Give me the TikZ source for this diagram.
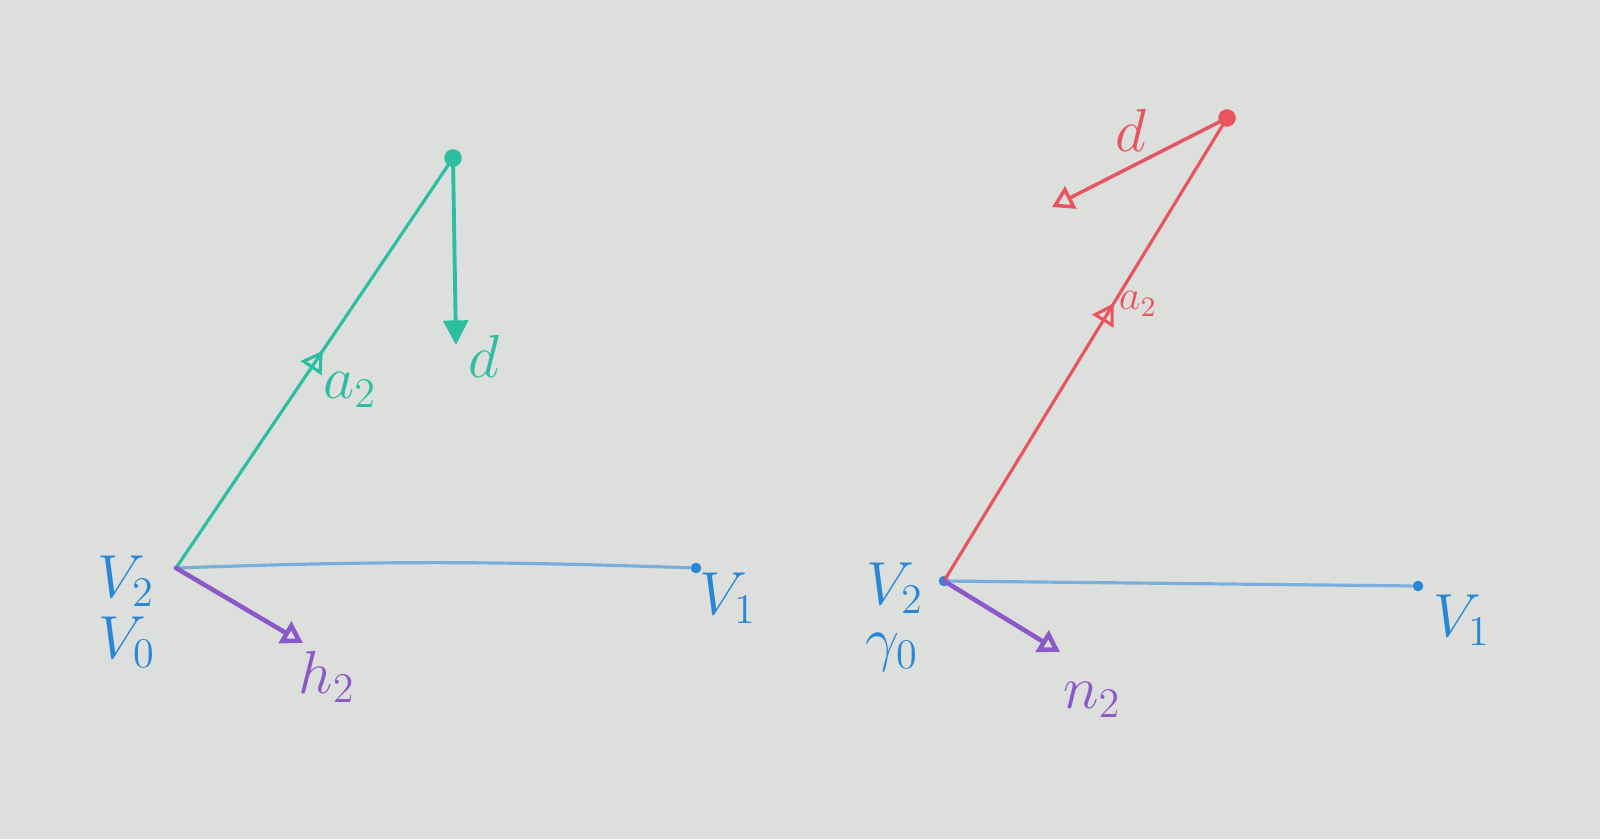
\documentclass[tikz,border=0pt]{standalone}
\usetikzlibrary{arrows.meta,decorations.markings}
\definecolor{board}{RGB}{221,223,221}
\definecolor{teal}{RGB}{45,190,160}
\definecolor{edgeblue}{RGB}{120,175,220}
\definecolor{inkblue}{RGB}{40,135,215}
\definecolor{inkpurple}{RGB}{140,90,200}
\definecolor{inkred}{RGB}{232,85,95}
\begin{document}
\begin{tikzpicture}[
    x=0.01cm, y=-0.01cm,
    dot/.style={
      circle,
      fill,
      inner sep=0pt,
      minimum size=#1
    },
    vec/.style={
      line width=1.3pt,
      -{Triangle[open,length=6pt,width=7pt]},
      line cap=round
    },
    edge/.style={
      edgeblue,
      line width=0.9pt,
      line cap=round
    },
    midarrow/.style={
      line width=0.9pt,
      postaction={decorate},
      decoration={markings,
        mark=at position #1 with {\arrow{Triangle[open,length=6pt,width=7pt]}}}
    },
    lab/.style={
      font=\LARGE,
      inner sep=0pt
    }
  ]

    % whiteboard
    \fill[board] (0,0) rectangle (1600,839);

    % Left sketch
    \begin{scope}
      \node[dot=5pt, teal] (ltop) at (453,158) {};
      \node[dot=3pt, inkblue] (lone) at (696,568) {};
      \coordinate (lorig) at (176,568);
      \coordinate (ldend) at (456,345);
      \coordinate (lhend) at (303,643);

      \draw[edge] (lorig) to[bend left=2] (lone);
      \draw[teal, midarrow=0.53] (lorig) -- (ltop.center);
      \draw[teal, line width=1.1pt, -{Triangle[length=7pt,width=7pt]}] (ltop.center) -- (ldend);
      \draw[vec, inkpurple] (lorig) -- (lhend);

      \node[lab, text=teal] (la) at (350,390) {$a_2$};
      \node[lab, text=teal] (ld) at (484,356) {$d$};
      \node[lab, text=inkpurple] (lh) at (327,677) {$h_2$};
      \node[lab, text=inkblue] (lv2) at (126,581) {$V_2$};
      \node[lab, text=inkblue] (lv0) at (127,642) {$V_0$};
      \node[lab, text=inkblue] (lv1) at (728,598) {$V_1$};
    \end{scope}

    % Right sketch
    \begin{scope}
      \node[dot=5pt, inkred] (rtop) at (1227,118) {};
      \node[dot=3pt, inkblue] (rone) at (1418,586) {};
      \node[dot=3pt, inkblue] (rorig) at (944,581) {};
      \coordinate (rdend) at (1052,207);
      \coordinate (rnend) at (1060,652);

      \draw[edge] (rorig.center) -- (rone);
      \draw[inkred, midarrow=0.6] (rorig.center) -- (rtop.center);
      \draw[vec, inkred, line width=1pt] (rtop.center) -- (rdend);
      \draw[vec, inkpurple] (rorig.center) -- (rnend);

      \node[font=\large, text=inkred] (ra) at (1138,304) {$a_2$};
      \node[lab, text=inkred] (rd) at (1131,130) {$d$};
      \node[lab, text=inkpurple] (rn) at (1092,700) {$n_2$};
      \node[lab, text=inkblue] (rv2) at (895,588) {$V_2$};
      \node[lab, text=inkblue] (rg0) at (892,652) {$\gamma_0$};
      \node[lab, text=inkblue] (rv1) at (1462,620) {$V_1$};
    \end{scope}

  \end{tikzpicture}
\end{document}
